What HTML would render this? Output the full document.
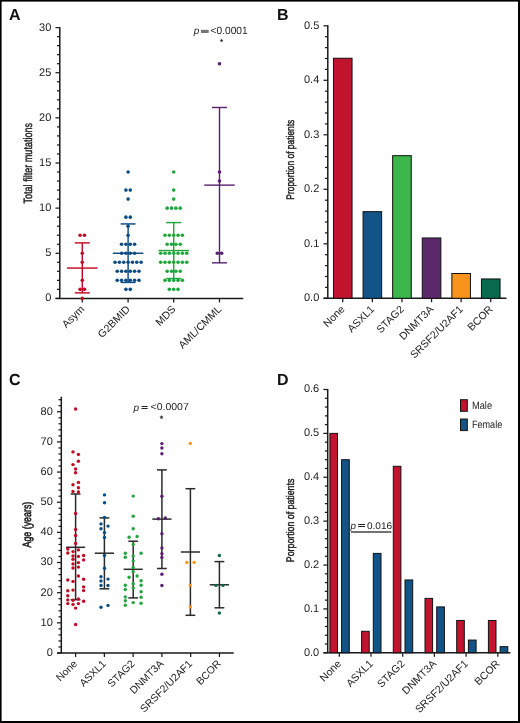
<!DOCTYPE html>
<html><head><meta charset="utf-8"><style>
html,body{margin:0;padding:0;background:#fff;}
svg{display:block;will-change:transform;font-family:"Liberation Sans",sans-serif;}
</style></head><body>
<svg width="520" height="723" viewBox="0 0 520 723" font-family="Liberation Sans, sans-serif" text-rendering="geometricPrecision">
<rect width="520" height="723" fill="#fff"/>
<rect x="0" y="0" width="1.6" height="723" fill="#000"/>
<rect x="0" y="0" width="520" height="1.6" fill="#000"/>
<rect x="518" y="0" width="2" height="723" fill="#000"/>
<rect x="0" y="721" width="520" height="2" fill="#000"/>
<text transform="translate(9.0,19.9) scale(1,1)" font-size="16" font-weight="bold" fill="#111" text-rendering="geometricPrecision">A</text>
<text transform="translate(276.95,19.9) scale(1,1)" font-size="16" font-weight="bold" fill="#111" text-rendering="geometricPrecision">B</text>
<text transform="translate(9.05,384.95) scale(1,1)" font-size="16" font-weight="bold" fill="#111" text-rendering="geometricPrecision">C</text>
<text transform="translate(276.95,384.95) scale(1,1)" font-size="16" font-weight="bold" fill="#111" text-rendering="geometricPrecision">D</text>
<line x1="59.8" y1="27" x2="59.8" y2="298.4" stroke="#1a1a1a" stroke-width="1.5"/>
<line x1="55.5" y1="298.4" x2="59.8" y2="298.4" stroke="#1a1a1a" stroke-width="1.25"/>
<text x="51.3" y="301.3" text-anchor="end" font-size="11.0" fill="#222222">0</text>
<line x1="55.5" y1="253.27" x2="59.8" y2="253.27" stroke="#1a1a1a" stroke-width="1.25"/>
<text x="51.3" y="256.17" text-anchor="end" font-size="11.0" fill="#222222">5</text>
<line x1="55.5" y1="208.13" x2="59.8" y2="208.13" stroke="#1a1a1a" stroke-width="1.25"/>
<text x="51.3" y="211.03" text-anchor="end" font-size="11.0" fill="#222222">10</text>
<line x1="55.5" y1="163.0" x2="59.8" y2="163.0" stroke="#1a1a1a" stroke-width="1.25"/>
<text x="51.3" y="165.9" text-anchor="end" font-size="11.0" fill="#222222">15</text>
<line x1="55.5" y1="117.87" x2="59.8" y2="117.87" stroke="#1a1a1a" stroke-width="1.25"/>
<text x="51.3" y="120.77" text-anchor="end" font-size="11.0" fill="#222222">20</text>
<line x1="55.5" y1="72.73" x2="59.8" y2="72.73" stroke="#1a1a1a" stroke-width="1.25"/>
<text x="51.3" y="75.63" text-anchor="end" font-size="11.0" fill="#222222">25</text>
<line x1="55.5" y1="27.6" x2="59.8" y2="27.6" stroke="#1a1a1a" stroke-width="1.25"/>
<text x="51.3" y="30.5" text-anchor="end" font-size="11.0" fill="#222222">30</text>
<line x1="57.0" y1="289.37" x2="59.8" y2="289.37" stroke="#1a1a1a" stroke-width="1.25"/>
<line x1="57.0" y1="280.35" x2="59.8" y2="280.35" stroke="#1a1a1a" stroke-width="1.25"/>
<line x1="57.0" y1="271.32" x2="59.8" y2="271.32" stroke="#1a1a1a" stroke-width="1.25"/>
<line x1="57.0" y1="262.29" x2="59.8" y2="262.29" stroke="#1a1a1a" stroke-width="1.25"/>
<line x1="57.0" y1="244.24" x2="59.8" y2="244.24" stroke="#1a1a1a" stroke-width="1.25"/>
<line x1="57.0" y1="235.21" x2="59.8" y2="235.21" stroke="#1a1a1a" stroke-width="1.25"/>
<line x1="57.0" y1="226.19" x2="59.8" y2="226.19" stroke="#1a1a1a" stroke-width="1.25"/>
<line x1="57.0" y1="217.16" x2="59.8" y2="217.16" stroke="#1a1a1a" stroke-width="1.25"/>
<line x1="57.0" y1="199.11" x2="59.8" y2="199.11" stroke="#1a1a1a" stroke-width="1.25"/>
<line x1="57.0" y1="190.08" x2="59.8" y2="190.08" stroke="#1a1a1a" stroke-width="1.25"/>
<line x1="57.0" y1="181.05" x2="59.8" y2="181.05" stroke="#1a1a1a" stroke-width="1.25"/>
<line x1="57.0" y1="172.03" x2="59.8" y2="172.03" stroke="#1a1a1a" stroke-width="1.25"/>
<line x1="57.0" y1="153.97" x2="59.8" y2="153.97" stroke="#1a1a1a" stroke-width="1.25"/>
<line x1="57.0" y1="144.95" x2="59.8" y2="144.95" stroke="#1a1a1a" stroke-width="1.25"/>
<line x1="57.0" y1="135.92" x2="59.8" y2="135.92" stroke="#1a1a1a" stroke-width="1.25"/>
<line x1="57.0" y1="126.89" x2="59.8" y2="126.89" stroke="#1a1a1a" stroke-width="1.25"/>
<line x1="57.0" y1="108.84" x2="59.8" y2="108.84" stroke="#1a1a1a" stroke-width="1.25"/>
<line x1="57.0" y1="99.81" x2="59.8" y2="99.81" stroke="#1a1a1a" stroke-width="1.25"/>
<line x1="57.0" y1="90.79" x2="59.8" y2="90.79" stroke="#1a1a1a" stroke-width="1.25"/>
<line x1="57.0" y1="81.76" x2="59.8" y2="81.76" stroke="#1a1a1a" stroke-width="1.25"/>
<line x1="57.0" y1="63.71" x2="59.8" y2="63.71" stroke="#1a1a1a" stroke-width="1.25"/>
<line x1="57.0" y1="54.68" x2="59.8" y2="54.68" stroke="#1a1a1a" stroke-width="1.25"/>
<line x1="57.0" y1="45.65" x2="59.8" y2="45.65" stroke="#1a1a1a" stroke-width="1.25"/>
<line x1="57.0" y1="36.63" x2="59.8" y2="36.63" stroke="#1a1a1a" stroke-width="1.25"/>
<line x1="55.6" y1="298.4" x2="243.3" y2="298.4" stroke="#1a1a1a" stroke-width="1.5"/>
<line x1="82.3" y1="298.4" x2="82.3" y2="302.4" stroke="#1a1a1a" stroke-width="1.25"/>
<text transform="translate(84.90,309.90) rotate(-45)" text-anchor="end" font-size="10.55" fill="#222222">Asym</text>
<line x1="128.1" y1="298.4" x2="128.1" y2="302.4" stroke="#1a1a1a" stroke-width="1.25"/>
<text transform="translate(130.70,309.90) rotate(-45)" text-anchor="end" font-size="10.55" fill="#222222">G2BMID</text>
<line x1="173.7" y1="298.4" x2="173.7" y2="302.4" stroke="#1a1a1a" stroke-width="1.25"/>
<text transform="translate(176.30,309.90) rotate(-45)" text-anchor="end" font-size="10.55" fill="#222222">MDS</text>
<line x1="219.5" y1="298.4" x2="219.5" y2="302.4" stroke="#1a1a1a" stroke-width="1.25"/>
<text transform="translate(222.10,309.90) rotate(-45)" text-anchor="end" font-size="10.55" fill="#222222">AML/CMML</text>
<text transform="translate(31.5,163.2) rotate(-90)" text-anchor="middle" font-size="12" fill="#222222" stroke="#222222" stroke-width="0.45" textLength="80.7" lengthAdjust="spacingAndGlyphs" font-weight="normal">Total filter mutations</text>
<line x1="82.3" y1="242.89" x2="82.3" y2="292.89" stroke="#c30a24" stroke-width="1.45"/>
<line x1="74.8" y1="242.89" x2="89.8" y2="242.89" stroke="#c30a24" stroke-width="1.45"/>
<line x1="74.8" y1="292.89" x2="89.8" y2="292.89" stroke="#c30a24" stroke-width="1.45"/>
<line x1="67.05" y1="268.07" x2="97.55" y2="268.07" stroke="#c30a24" stroke-width="1.45"/>
<circle cx="80.12" cy="235.21" r="1.8" fill="#c30a24"/>
<circle cx="84.47" cy="235.21" r="1.8" fill="#c30a24"/>
<circle cx="82.30" cy="253.27" r="1.8" fill="#c30a24"/>
<circle cx="82.30" cy="262.29" r="1.8" fill="#c30a24"/>
<circle cx="82.30" cy="280.35" r="1.8" fill="#c30a24"/>
<circle cx="80.12" cy="289.37" r="1.8" fill="#c30a24"/>
<circle cx="84.47" cy="289.37" r="1.8" fill="#c30a24"/>
<circle cx="82.30" cy="298.40" r="1.8" fill="#c30a24"/>
<line x1="128.1" y1="223.93" x2="128.1" y2="282.42" stroke="#0d4c82" stroke-width="1.45"/>
<line x1="120.6" y1="223.93" x2="135.6" y2="223.93" stroke="#0d4c82" stroke-width="1.45"/>
<line x1="120.6" y1="282.42" x2="135.6" y2="282.42" stroke="#0d4c82" stroke-width="1.45"/>
<line x1="112.85" y1="253.27" x2="143.35" y2="253.27" stroke="#0d4c82" stroke-width="1.45"/>
<circle cx="128.10" cy="172.03" r="1.8" fill="#0d4c82"/>
<circle cx="125.92" cy="190.08" r="1.8" fill="#0d4c82"/>
<circle cx="130.28" cy="190.08" r="1.8" fill="#0d4c82"/>
<circle cx="128.10" cy="199.11" r="1.8" fill="#0d4c82"/>
<circle cx="125.92" cy="217.16" r="1.8" fill="#0d4c82"/>
<circle cx="130.28" cy="217.16" r="1.8" fill="#0d4c82"/>
<circle cx="128.10" cy="226.19" r="1.8" fill="#0d4c82"/>
<circle cx="128.10" cy="235.21" r="1.8" fill="#0d4c82"/>
<circle cx="121.57" cy="244.24" r="1.8" fill="#0d4c82"/>
<circle cx="125.92" cy="244.24" r="1.8" fill="#0d4c82"/>
<circle cx="130.28" cy="244.24" r="1.8" fill="#0d4c82"/>
<circle cx="134.62" cy="244.24" r="1.8" fill="#0d4c82"/>
<circle cx="121.57" cy="253.27" r="1.8" fill="#0d4c82"/>
<circle cx="125.92" cy="253.27" r="1.8" fill="#0d4c82"/>
<circle cx="130.28" cy="253.27" r="1.8" fill="#0d4c82"/>
<circle cx="134.62" cy="253.27" r="1.8" fill="#0d4c82"/>
<circle cx="115.05" cy="262.29" r="1.8" fill="#0d4c82"/>
<circle cx="119.40" cy="262.29" r="1.8" fill="#0d4c82"/>
<circle cx="123.75" cy="262.29" r="1.8" fill="#0d4c82"/>
<circle cx="128.10" cy="262.29" r="1.8" fill="#0d4c82"/>
<circle cx="132.45" cy="262.29" r="1.8" fill="#0d4c82"/>
<circle cx="136.80" cy="262.29" r="1.8" fill="#0d4c82"/>
<circle cx="141.15" cy="262.29" r="1.8" fill="#0d4c82"/>
<circle cx="117.22" cy="271.32" r="1.8" fill="#0d4c82"/>
<circle cx="121.57" cy="271.32" r="1.8" fill="#0d4c82"/>
<circle cx="125.92" cy="271.32" r="1.8" fill="#0d4c82"/>
<circle cx="130.28" cy="271.32" r="1.8" fill="#0d4c82"/>
<circle cx="134.62" cy="271.32" r="1.8" fill="#0d4c82"/>
<circle cx="138.97" cy="271.32" r="1.8" fill="#0d4c82"/>
<circle cx="117.22" cy="280.35" r="1.8" fill="#0d4c82"/>
<circle cx="121.57" cy="280.35" r="1.8" fill="#0d4c82"/>
<circle cx="125.92" cy="280.35" r="1.8" fill="#0d4c82"/>
<circle cx="130.28" cy="280.35" r="1.8" fill="#0d4c82"/>
<circle cx="134.62" cy="280.35" r="1.8" fill="#0d4c82"/>
<circle cx="138.97" cy="280.35" r="1.8" fill="#0d4c82"/>
<circle cx="125.92" cy="289.37" r="1.8" fill="#0d4c82"/>
<circle cx="130.28" cy="289.37" r="1.8" fill="#0d4c82"/>
<line x1="173.7" y1="222.58" x2="173.7" y2="278.54" stroke="#20a63b" stroke-width="1.45"/>
<line x1="166.2" y1="222.58" x2="181.2" y2="222.58" stroke="#20a63b" stroke-width="1.45"/>
<line x1="166.2" y1="278.54" x2="181.2" y2="278.54" stroke="#20a63b" stroke-width="1.45"/>
<line x1="158.45" y1="250.56" x2="188.95" y2="250.56" stroke="#20a63b" stroke-width="1.45"/>
<circle cx="173.70" cy="172.03" r="1.8" fill="#20a63b"/>
<circle cx="173.70" cy="190.08" r="1.8" fill="#20a63b"/>
<circle cx="173.70" cy="199.11" r="1.8" fill="#20a63b"/>
<circle cx="167.17" cy="208.13" r="1.8" fill="#20a63b"/>
<circle cx="171.52" cy="208.13" r="1.8" fill="#20a63b"/>
<circle cx="175.88" cy="208.13" r="1.8" fill="#20a63b"/>
<circle cx="180.22" cy="208.13" r="1.8" fill="#20a63b"/>
<circle cx="165.00" cy="235.21" r="1.8" fill="#20a63b"/>
<circle cx="169.35" cy="235.21" r="1.8" fill="#20a63b"/>
<circle cx="173.70" cy="235.21" r="1.8" fill="#20a63b"/>
<circle cx="178.05" cy="235.21" r="1.8" fill="#20a63b"/>
<circle cx="182.40" cy="235.21" r="1.8" fill="#20a63b"/>
<circle cx="167.17" cy="244.24" r="1.8" fill="#20a63b"/>
<circle cx="171.52" cy="244.24" r="1.8" fill="#20a63b"/>
<circle cx="175.88" cy="244.24" r="1.8" fill="#20a63b"/>
<circle cx="180.22" cy="244.24" r="1.8" fill="#20a63b"/>
<circle cx="160.65" cy="253.27" r="1.8" fill="#20a63b"/>
<circle cx="165.00" cy="253.27" r="1.8" fill="#20a63b"/>
<circle cx="169.35" cy="253.27" r="1.8" fill="#20a63b"/>
<circle cx="173.70" cy="253.27" r="1.8" fill="#20a63b"/>
<circle cx="178.05" cy="253.27" r="1.8" fill="#20a63b"/>
<circle cx="182.40" cy="253.27" r="1.8" fill="#20a63b"/>
<circle cx="186.75" cy="253.27" r="1.8" fill="#20a63b"/>
<circle cx="160.65" cy="262.29" r="1.8" fill="#20a63b"/>
<circle cx="165.00" cy="262.29" r="1.8" fill="#20a63b"/>
<circle cx="169.35" cy="262.29" r="1.8" fill="#20a63b"/>
<circle cx="173.70" cy="262.29" r="1.8" fill="#20a63b"/>
<circle cx="178.05" cy="262.29" r="1.8" fill="#20a63b"/>
<circle cx="182.40" cy="262.29" r="1.8" fill="#20a63b"/>
<circle cx="186.75" cy="262.29" r="1.8" fill="#20a63b"/>
<circle cx="167.17" cy="271.32" r="1.8" fill="#20a63b"/>
<circle cx="171.52" cy="271.32" r="1.8" fill="#20a63b"/>
<circle cx="175.88" cy="271.32" r="1.8" fill="#20a63b"/>
<circle cx="180.22" cy="271.32" r="1.8" fill="#20a63b"/>
<circle cx="165.00" cy="280.35" r="1.8" fill="#20a63b"/>
<circle cx="169.35" cy="280.35" r="1.8" fill="#20a63b"/>
<circle cx="173.70" cy="280.35" r="1.8" fill="#20a63b"/>
<circle cx="178.05" cy="280.35" r="1.8" fill="#20a63b"/>
<circle cx="182.40" cy="280.35" r="1.8" fill="#20a63b"/>
<circle cx="169.35" cy="289.37" r="1.8" fill="#20a63b"/>
<circle cx="173.70" cy="289.37" r="1.8" fill="#20a63b"/>
<circle cx="178.05" cy="289.37" r="1.8" fill="#20a63b"/>
<line x1="219.5" y1="107.49" x2="219.5" y2="262.83" stroke="#5a1f70" stroke-width="1.4"/>
<line x1="212.0" y1="107.49" x2="227.0" y2="107.49" stroke="#5a1f70" stroke-width="1.4"/>
<line x1="212.0" y1="262.83" x2="227.0" y2="262.83" stroke="#5a1f70" stroke-width="1.4"/>
<line x1="204.25" y1="185.12" x2="234.75" y2="185.12" stroke="#5a1f70" stroke-width="1.4"/>
<circle cx="219.50" cy="63.71" r="1.8" fill="#5a1f70"/>
<circle cx="219.50" cy="172.03" r="1.8" fill="#5a1f70"/>
<circle cx="219.50" cy="181.05" r="1.8" fill="#5a1f70"/>
<circle cx="217.32" cy="253.27" r="1.8" fill="#5a1f70"/>
<circle cx="221.68" cy="253.27" r="1.8" fill="#5a1f70"/>
<polygon points="221.60,38.70 222.13,39.77 223.31,39.94 222.46,40.78 222.66,41.96 221.60,41.40 220.54,41.96 220.74,40.78 219.89,39.94 221.07,39.77" fill="#222"/>
<text x="193.7" y="34.4" font-size="10" fill="#222222"><tspan font-style="italic">p</tspan></text>
<rect x="201" y="29.8" width="7.7" height="3.2" fill="#777"/>
<text x="210.5" y="34.0" font-size="10.5" fill="#222222" textLength="37.2" lengthAdjust="spacingAndGlyphs">&lt;0.0001</text>
<line x1="327.8" y1="25.2" x2="327.8" y2="298.3" stroke="#1a1a1a" stroke-width="1.5"/>
<line x1="323.5" y1="298.3" x2="327.8" y2="298.3" stroke="#1a1a1a" stroke-width="1.25"/>
<text x="319.3" y="301.2" text-anchor="end" font-size="11.0" fill="#222222">0.0</text>
<line x1="323.5" y1="243.8" x2="327.8" y2="243.8" stroke="#1a1a1a" stroke-width="1.25"/>
<text x="319.3" y="246.7" text-anchor="end" font-size="11.0" fill="#222222">0.1</text>
<line x1="323.5" y1="189.3" x2="327.8" y2="189.3" stroke="#1a1a1a" stroke-width="1.25"/>
<text x="319.3" y="192.2" text-anchor="end" font-size="11.0" fill="#222222">0.2</text>
<line x1="323.5" y1="134.8" x2="327.8" y2="134.8" stroke="#1a1a1a" stroke-width="1.25"/>
<text x="319.3" y="137.7" text-anchor="end" font-size="11.0" fill="#222222">0.3</text>
<line x1="323.5" y1="80.3" x2="327.8" y2="80.3" stroke="#1a1a1a" stroke-width="1.25"/>
<text x="319.3" y="83.2" text-anchor="end" font-size="11.0" fill="#222222">0.4</text>
<line x1="323.5" y1="25.8" x2="327.8" y2="25.8" stroke="#1a1a1a" stroke-width="1.25"/>
<text x="319.3" y="28.7" text-anchor="end" font-size="11.0" fill="#222222">0.5</text>
<line x1="325.0" y1="287.4" x2="327.8" y2="287.4" stroke="#1a1a1a" stroke-width="1.25"/>
<line x1="325.0" y1="276.5" x2="327.8" y2="276.5" stroke="#1a1a1a" stroke-width="1.25"/>
<line x1="325.0" y1="265.6" x2="327.8" y2="265.6" stroke="#1a1a1a" stroke-width="1.25"/>
<line x1="325.0" y1="254.7" x2="327.8" y2="254.7" stroke="#1a1a1a" stroke-width="1.25"/>
<line x1="325.0" y1="232.9" x2="327.8" y2="232.9" stroke="#1a1a1a" stroke-width="1.25"/>
<line x1="325.0" y1="222.0" x2="327.8" y2="222.0" stroke="#1a1a1a" stroke-width="1.25"/>
<line x1="325.0" y1="211.1" x2="327.8" y2="211.1" stroke="#1a1a1a" stroke-width="1.25"/>
<line x1="325.0" y1="200.2" x2="327.8" y2="200.2" stroke="#1a1a1a" stroke-width="1.25"/>
<line x1="325.0" y1="178.4" x2="327.8" y2="178.4" stroke="#1a1a1a" stroke-width="1.25"/>
<line x1="325.0" y1="167.5" x2="327.8" y2="167.5" stroke="#1a1a1a" stroke-width="1.25"/>
<line x1="325.0" y1="156.6" x2="327.8" y2="156.6" stroke="#1a1a1a" stroke-width="1.25"/>
<line x1="325.0" y1="145.7" x2="327.8" y2="145.7" stroke="#1a1a1a" stroke-width="1.25"/>
<line x1="325.0" y1="123.9" x2="327.8" y2="123.9" stroke="#1a1a1a" stroke-width="1.25"/>
<line x1="325.0" y1="113.0" x2="327.8" y2="113.0" stroke="#1a1a1a" stroke-width="1.25"/>
<line x1="325.0" y1="102.1" x2="327.8" y2="102.1" stroke="#1a1a1a" stroke-width="1.25"/>
<line x1="325.0" y1="91.2" x2="327.8" y2="91.2" stroke="#1a1a1a" stroke-width="1.25"/>
<line x1="325.0" y1="69.4" x2="327.8" y2="69.4" stroke="#1a1a1a" stroke-width="1.25"/>
<line x1="325.0" y1="58.5" x2="327.8" y2="58.5" stroke="#1a1a1a" stroke-width="1.25"/>
<line x1="325.0" y1="47.6" x2="327.8" y2="47.6" stroke="#1a1a1a" stroke-width="1.25"/>
<line x1="325.0" y1="36.7" x2="327.8" y2="36.7" stroke="#1a1a1a" stroke-width="1.25"/>
<line x1="323.6" y1="298.3" x2="506.5" y2="298.3" stroke="#1a1a1a" stroke-width="1.5"/>
<line x1="342.75" y1="298.3" x2="342.75" y2="302.3" stroke="#1a1a1a" stroke-width="1.25"/>
<text transform="translate(345.35,309.80) rotate(-45)" text-anchor="end" font-size="10.55" fill="#222222">None</text>
<line x1="372.35" y1="298.3" x2="372.35" y2="302.3" stroke="#1a1a1a" stroke-width="1.25"/>
<text transform="translate(374.95,309.80) rotate(-45)" text-anchor="end" font-size="10.55" fill="#222222">ASXL1</text>
<line x1="401.95" y1="298.3" x2="401.95" y2="302.3" stroke="#1a1a1a" stroke-width="1.25"/>
<text transform="translate(404.55,309.80) rotate(-45)" text-anchor="end" font-size="10.55" fill="#222222">STAG2</text>
<line x1="431.55" y1="298.3" x2="431.55" y2="302.3" stroke="#1a1a1a" stroke-width="1.25"/>
<text transform="translate(434.15,309.80) rotate(-45)" text-anchor="end" font-size="10.55" fill="#222222">DNMT3A</text>
<line x1="461.15" y1="298.3" x2="461.15" y2="302.3" stroke="#1a1a1a" stroke-width="1.25"/>
<text transform="translate(463.75,309.80) rotate(-45)" text-anchor="end" font-size="10.55" fill="#222222">SRSF2/U2AF1</text>
<line x1="490.75" y1="298.3" x2="490.75" y2="302.3" stroke="#1a1a1a" stroke-width="1.25"/>
<text transform="translate(493.35,309.80) rotate(-45)" text-anchor="end" font-size="10.55" fill="#222222">BCOR</text>
<text transform="translate(293.8,159.7) rotate(-90)" text-anchor="middle" font-size="11" fill="#222222" stroke="#222222" stroke-width="0.45" textLength="80" lengthAdjust="spacingAndGlyphs" font-weight="normal">Proportion of patients</text>
<rect x="333.45" y="58.23" width="18.6" height="240.07" fill="#c2132f" stroke="#111" stroke-width="1"/>
<rect x="363.05" y="211.65" width="18.6" height="86.66" fill="#135488" stroke="#111" stroke-width="1"/>
<rect x="392.65" y="155.67" width="18.6" height="142.63" fill="#3cb54a" stroke="#111" stroke-width="1"/>
<rect x="422.25" y="237.97" width="18.6" height="60.33" fill="#5c2a6c" stroke="#111" stroke-width="1"/>
<rect x="451.85" y="273.50" width="18.6" height="24.80" fill="#f7941e" stroke="#111" stroke-width="1"/>
<rect x="481.45" y="278.95" width="18.6" height="19.35" fill="#0a6a4e" stroke="#111" stroke-width="1"/>
<line x1="61.3" y1="396.67" x2="61.3" y2="653.0" stroke="#1a1a1a" stroke-width="1.5"/>
<line x1="57.0" y1="653.0" x2="61.3" y2="653.0" stroke="#1a1a1a" stroke-width="1.25"/>
<text x="52.8" y="655.9" text-anchor="end" font-size="11.0" fill="#222222">0</text>
<line x1="57.0" y1="622.84" x2="61.3" y2="622.84" stroke="#1a1a1a" stroke-width="1.25"/>
<text x="52.8" y="625.74" text-anchor="end" font-size="11.0" fill="#222222">10</text>
<line x1="57.0" y1="592.69" x2="61.3" y2="592.69" stroke="#1a1a1a" stroke-width="1.25"/>
<text x="52.8" y="595.59" text-anchor="end" font-size="11.0" fill="#222222">20</text>
<line x1="57.0" y1="562.53" x2="61.3" y2="562.53" stroke="#1a1a1a" stroke-width="1.25"/>
<text x="52.8" y="565.43" text-anchor="end" font-size="11.0" fill="#222222">30</text>
<line x1="57.0" y1="532.38" x2="61.3" y2="532.38" stroke="#1a1a1a" stroke-width="1.25"/>
<text x="52.8" y="535.27" text-anchor="end" font-size="11.0" fill="#222222">40</text>
<line x1="57.0" y1="502.22" x2="61.3" y2="502.22" stroke="#1a1a1a" stroke-width="1.25"/>
<text x="52.8" y="505.12" text-anchor="end" font-size="11.0" fill="#222222">50</text>
<line x1="57.0" y1="472.06" x2="61.3" y2="472.06" stroke="#1a1a1a" stroke-width="1.25"/>
<text x="52.8" y="474.96" text-anchor="end" font-size="11.0" fill="#222222">60</text>
<line x1="57.0" y1="441.91" x2="61.3" y2="441.91" stroke="#1a1a1a" stroke-width="1.25"/>
<text x="52.8" y="444.81" text-anchor="end" font-size="11.0" fill="#222222">70</text>
<line x1="57.0" y1="411.75" x2="61.3" y2="411.75" stroke="#1a1a1a" stroke-width="1.25"/>
<text x="52.8" y="414.65" text-anchor="end" font-size="11.0" fill="#222222">80</text>
<line x1="58.5" y1="646.97" x2="61.3" y2="646.97" stroke="#1a1a1a" stroke-width="1.25"/>
<line x1="58.5" y1="640.94" x2="61.3" y2="640.94" stroke="#1a1a1a" stroke-width="1.25"/>
<line x1="58.5" y1="634.91" x2="61.3" y2="634.91" stroke="#1a1a1a" stroke-width="1.25"/>
<line x1="58.5" y1="628.88" x2="61.3" y2="628.88" stroke="#1a1a1a" stroke-width="1.25"/>
<line x1="58.5" y1="616.81" x2="61.3" y2="616.81" stroke="#1a1a1a" stroke-width="1.25"/>
<line x1="58.5" y1="610.78" x2="61.3" y2="610.78" stroke="#1a1a1a" stroke-width="1.25"/>
<line x1="58.5" y1="604.75" x2="61.3" y2="604.75" stroke="#1a1a1a" stroke-width="1.25"/>
<line x1="58.5" y1="598.72" x2="61.3" y2="598.72" stroke="#1a1a1a" stroke-width="1.25"/>
<line x1="58.5" y1="586.66" x2="61.3" y2="586.66" stroke="#1a1a1a" stroke-width="1.25"/>
<line x1="58.5" y1="580.62" x2="61.3" y2="580.62" stroke="#1a1a1a" stroke-width="1.25"/>
<line x1="58.5" y1="574.59" x2="61.3" y2="574.59" stroke="#1a1a1a" stroke-width="1.25"/>
<line x1="58.5" y1="568.56" x2="61.3" y2="568.56" stroke="#1a1a1a" stroke-width="1.25"/>
<line x1="58.5" y1="556.5" x2="61.3" y2="556.5" stroke="#1a1a1a" stroke-width="1.25"/>
<line x1="58.5" y1="550.47" x2="61.3" y2="550.47" stroke="#1a1a1a" stroke-width="1.25"/>
<line x1="58.5" y1="544.44" x2="61.3" y2="544.44" stroke="#1a1a1a" stroke-width="1.25"/>
<line x1="58.5" y1="538.41" x2="61.3" y2="538.41" stroke="#1a1a1a" stroke-width="1.25"/>
<line x1="58.5" y1="526.34" x2="61.3" y2="526.34" stroke="#1a1a1a" stroke-width="1.25"/>
<line x1="58.5" y1="520.31" x2="61.3" y2="520.31" stroke="#1a1a1a" stroke-width="1.25"/>
<line x1="58.5" y1="514.28" x2="61.3" y2="514.28" stroke="#1a1a1a" stroke-width="1.25"/>
<line x1="58.5" y1="508.25" x2="61.3" y2="508.25" stroke="#1a1a1a" stroke-width="1.25"/>
<line x1="58.5" y1="496.19" x2="61.3" y2="496.19" stroke="#1a1a1a" stroke-width="1.25"/>
<line x1="58.5" y1="490.16" x2="61.3" y2="490.16" stroke="#1a1a1a" stroke-width="1.25"/>
<line x1="58.5" y1="484.12" x2="61.3" y2="484.12" stroke="#1a1a1a" stroke-width="1.25"/>
<line x1="58.5" y1="478.09" x2="61.3" y2="478.09" stroke="#1a1a1a" stroke-width="1.25"/>
<line x1="58.5" y1="466.03" x2="61.3" y2="466.03" stroke="#1a1a1a" stroke-width="1.25"/>
<line x1="58.5" y1="460.0" x2="61.3" y2="460.0" stroke="#1a1a1a" stroke-width="1.25"/>
<line x1="58.5" y1="453.97" x2="61.3" y2="453.97" stroke="#1a1a1a" stroke-width="1.25"/>
<line x1="58.5" y1="447.94" x2="61.3" y2="447.94" stroke="#1a1a1a" stroke-width="1.25"/>
<line x1="58.5" y1="435.88" x2="61.3" y2="435.88" stroke="#1a1a1a" stroke-width="1.25"/>
<line x1="58.5" y1="429.84" x2="61.3" y2="429.84" stroke="#1a1a1a" stroke-width="1.25"/>
<line x1="58.5" y1="423.81" x2="61.3" y2="423.81" stroke="#1a1a1a" stroke-width="1.25"/>
<line x1="58.5" y1="417.78" x2="61.3" y2="417.78" stroke="#1a1a1a" stroke-width="1.25"/>
<line x1="58.5" y1="405.72" x2="61.3" y2="405.72" stroke="#1a1a1a" stroke-width="1.25"/>
<line x1="58.5" y1="399.69" x2="61.3" y2="399.69" stroke="#1a1a1a" stroke-width="1.25"/>
<line x1="57.1" y1="653.0" x2="233.75" y2="653.0" stroke="#1a1a1a" stroke-width="1.5"/>
<line x1="75.6" y1="653.0" x2="75.6" y2="657.0" stroke="#1a1a1a" stroke-width="1.25"/>
<text transform="translate(77.80,664.30) rotate(-45)" text-anchor="end" font-size="10.4" fill="#222222">None</text>
<line x1="104.37" y1="653.0" x2="104.37" y2="657.0" stroke="#1a1a1a" stroke-width="1.25"/>
<text transform="translate(106.57,664.30) rotate(-45)" text-anchor="end" font-size="10.4" fill="#222222">ASXL1</text>
<line x1="133.14" y1="653.0" x2="133.14" y2="657.0" stroke="#1a1a1a" stroke-width="1.25"/>
<text transform="translate(135.34,664.30) rotate(-45)" text-anchor="end" font-size="10.4" fill="#222222">STAG2</text>
<line x1="161.91" y1="653.0" x2="161.91" y2="657.0" stroke="#1a1a1a" stroke-width="1.25"/>
<text transform="translate(164.11,664.30) rotate(-45)" text-anchor="end" font-size="10.4" fill="#222222">DNMT3A</text>
<line x1="190.68" y1="653.0" x2="190.68" y2="657.0" stroke="#1a1a1a" stroke-width="1.25"/>
<text transform="translate(192.88,664.30) rotate(-45)" text-anchor="end" font-size="10.4" fill="#222222">SRSF2/U2AF1</text>
<line x1="219.45" y1="653.0" x2="219.45" y2="657.0" stroke="#1a1a1a" stroke-width="1.25"/>
<text transform="translate(221.65,664.30) rotate(-45)" text-anchor="end" font-size="10.4" fill="#222222">BCOR</text>
<text transform="translate(31.2,524.6) rotate(-90)" text-anchor="middle" font-size="12" fill="#222222" stroke="#222222" stroke-width="0.6" textLength="45.7" lengthAdjust="spacingAndGlyphs" font-weight="normal">Age (years)</text>
<line x1="75.6" y1="494.0" x2="75.6" y2="599.7" stroke="#2a2a2a" stroke-width="1.5"/>
<line x1="70.7" y1="494.0" x2="80.5" y2="494.0" stroke="#2a2a2a" stroke-width="1.5"/>
<line x1="70.7" y1="599.7" x2="80.5" y2="599.7" stroke="#2a2a2a" stroke-width="1.5"/>
<line x1="66.0" y1="547.3" x2="85.2" y2="547.3" stroke="#2a2a2a" stroke-width="1.5"/>
<circle cx="75.60" cy="409.00" r="1.7" fill="#c30a24"/>
<circle cx="73.00" cy="451.90" r="1.7" fill="#c30a24"/>
<circle cx="78.40" cy="454.40" r="1.7" fill="#c30a24"/>
<circle cx="78.40" cy="461.20" r="1.7" fill="#c30a24"/>
<circle cx="73.00" cy="464.60" r="1.7" fill="#c30a24"/>
<circle cx="75.60" cy="469.00" r="1.7" fill="#c30a24"/>
<circle cx="75.60" cy="472.70" r="1.7" fill="#c30a24"/>
<circle cx="73.00" cy="484.70" r="1.7" fill="#c30a24"/>
<circle cx="78.40" cy="482.40" r="1.7" fill="#c30a24"/>
<circle cx="78.40" cy="487.70" r="1.7" fill="#c30a24"/>
<circle cx="73.00" cy="491.50" r="1.7" fill="#c30a24"/>
<circle cx="78.40" cy="492.00" r="1.7" fill="#c30a24"/>
<circle cx="75.60" cy="513.50" r="1.7" fill="#c30a24"/>
<circle cx="75.60" cy="529.40" r="1.7" fill="#c30a24"/>
<circle cx="75.60" cy="535.50" r="1.7" fill="#c30a24"/>
<circle cx="75.60" cy="543.50" r="1.7" fill="#c30a24"/>
<circle cx="67.80" cy="549.00" r="1.7" fill="#c30a24"/>
<circle cx="73.00" cy="551.60" r="1.7" fill="#c30a24"/>
<circle cx="78.40" cy="549.90" r="1.7" fill="#c30a24"/>
<circle cx="67.80" cy="553.00" r="1.7" fill="#c30a24"/>
<circle cx="73.00" cy="555.90" r="1.7" fill="#c30a24"/>
<circle cx="78.40" cy="556.40" r="1.7" fill="#c30a24"/>
<circle cx="83.60" cy="555.50" r="1.7" fill="#c30a24"/>
<circle cx="73.00" cy="559.30" r="1.7" fill="#c30a24"/>
<circle cx="83.60" cy="559.90" r="1.7" fill="#c30a24"/>
<circle cx="78.40" cy="562.60" r="1.7" fill="#c30a24"/>
<circle cx="73.00" cy="563.90" r="1.7" fill="#c30a24"/>
<circle cx="73.00" cy="568.00" r="1.7" fill="#c30a24"/>
<circle cx="78.40" cy="567.10" r="1.7" fill="#c30a24"/>
<circle cx="78.40" cy="576.00" r="1.7" fill="#c30a24"/>
<circle cx="67.80" cy="580.00" r="1.7" fill="#c30a24"/>
<circle cx="73.00" cy="581.40" r="1.7" fill="#c30a24"/>
<circle cx="83.60" cy="579.20" r="1.7" fill="#c30a24"/>
<circle cx="83.60" cy="586.90" r="1.7" fill="#c30a24"/>
<circle cx="67.80" cy="590.70" r="1.7" fill="#c30a24"/>
<circle cx="73.00" cy="590.10" r="1.7" fill="#c30a24"/>
<circle cx="83.60" cy="590.60" r="1.7" fill="#c30a24"/>
<circle cx="67.80" cy="595.70" r="1.7" fill="#c30a24"/>
<circle cx="67.80" cy="599.90" r="1.7" fill="#c30a24"/>
<circle cx="73.00" cy="600.30" r="1.7" fill="#c30a24"/>
<circle cx="78.40" cy="599.00" r="1.7" fill="#c30a24"/>
<circle cx="83.60" cy="601.30" r="1.7" fill="#c30a24"/>
<circle cx="67.80" cy="603.60" r="1.7" fill="#c30a24"/>
<circle cx="73.00" cy="604.40" r="1.7" fill="#c30a24"/>
<circle cx="78.40" cy="603.60" r="1.7" fill="#c30a24"/>
<circle cx="75.60" cy="608.10" r="1.7" fill="#c30a24"/>
<circle cx="75.60" cy="624.50" r="1.7" fill="#c30a24"/>
<line x1="104.4" y1="517.9" x2="104.4" y2="588.8" stroke="#2a2a2a" stroke-width="1.5"/>
<line x1="99.5" y1="517.9" x2="109.3" y2="517.9" stroke="#2a2a2a" stroke-width="1.5"/>
<line x1="99.5" y1="588.8" x2="109.3" y2="588.8" stroke="#2a2a2a" stroke-width="1.5"/>
<line x1="94.8" y1="553.2" x2="114.0" y2="553.2" stroke="#2a2a2a" stroke-width="1.5"/>
<circle cx="104.50" cy="494.90" r="1.7" fill="#0d4c82"/>
<circle cx="104.50" cy="502.80" r="1.7" fill="#0d4c82"/>
<circle cx="104.50" cy="517.40" r="1.7" fill="#0d4c82"/>
<circle cx="101.00" cy="523.90" r="1.7" fill="#0d4c82"/>
<circle cx="108.00" cy="526.10" r="1.7" fill="#0d4c82"/>
<circle cx="101.00" cy="528.80" r="1.7" fill="#0d4c82"/>
<circle cx="104.50" cy="532.60" r="1.7" fill="#0d4c82"/>
<circle cx="104.50" cy="537.50" r="1.7" fill="#0d4c82"/>
<circle cx="104.50" cy="555.50" r="1.7" fill="#0d4c82"/>
<circle cx="104.50" cy="568.30" r="1.7" fill="#0d4c82"/>
<circle cx="101.00" cy="576.80" r="1.7" fill="#0d4c82"/>
<circle cx="101.00" cy="581.00" r="1.7" fill="#0d4c82"/>
<circle cx="108.00" cy="579.10" r="1.7" fill="#0d4c82"/>
<circle cx="101.00" cy="585.50" r="1.7" fill="#0d4c82"/>
<circle cx="108.00" cy="585.50" r="1.7" fill="#0d4c82"/>
<circle cx="101.00" cy="607.20" r="1.7" fill="#0d4c82"/>
<circle cx="108.00" cy="605.40" r="1.7" fill="#0d4c82"/>
<line x1="133.2" y1="541.2" x2="133.2" y2="597.9" stroke="#2a2a2a" stroke-width="1.5"/>
<line x1="128.3" y1="541.2" x2="138.1" y2="541.2" stroke="#2a2a2a" stroke-width="1.5"/>
<line x1="128.3" y1="597.9" x2="138.1" y2="597.9" stroke="#2a2a2a" stroke-width="1.5"/>
<line x1="123.6" y1="569.3" x2="142.8" y2="569.3" stroke="#2a2a2a" stroke-width="1.5"/>
<circle cx="133.20" cy="496.10" r="1.7" fill="#20a63b"/>
<circle cx="133.20" cy="516.20" r="1.7" fill="#20a63b"/>
<circle cx="133.20" cy="528.80" r="1.7" fill="#20a63b"/>
<circle cx="129.10" cy="537.30" r="1.7" fill="#20a63b"/>
<circle cx="137.10" cy="536.50" r="1.7" fill="#20a63b"/>
<circle cx="133.20" cy="544.40" r="1.7" fill="#20a63b"/>
<circle cx="125.30" cy="553.30" r="1.7" fill="#20a63b"/>
<circle cx="141.10" cy="553.30" r="1.7" fill="#20a63b"/>
<circle cx="125.30" cy="557.20" r="1.7" fill="#20a63b"/>
<circle cx="133.20" cy="556.10" r="1.7" fill="#20a63b"/>
<circle cx="133.20" cy="561.10" r="1.7" fill="#20a63b"/>
<circle cx="133.20" cy="567.40" r="1.7" fill="#20a63b"/>
<circle cx="133.20" cy="571.70" r="1.7" fill="#20a63b"/>
<circle cx="129.10" cy="577.20" r="1.7" fill="#20a63b"/>
<circle cx="137.10" cy="576.00" r="1.7" fill="#20a63b"/>
<circle cx="141.10" cy="580.70" r="1.7" fill="#20a63b"/>
<circle cx="125.30" cy="585.20" r="1.7" fill="#20a63b"/>
<circle cx="133.20" cy="583.80" r="1.7" fill="#20a63b"/>
<circle cx="141.10" cy="585.20" r="1.7" fill="#20a63b"/>
<circle cx="125.30" cy="589.50" r="1.7" fill="#20a63b"/>
<circle cx="133.20" cy="588.10" r="1.7" fill="#20a63b"/>
<circle cx="141.10" cy="591.70" r="1.7" fill="#20a63b"/>
<circle cx="125.30" cy="597.00" r="1.7" fill="#20a63b"/>
<circle cx="141.10" cy="597.30" r="1.7" fill="#20a63b"/>
<circle cx="125.30" cy="600.70" r="1.7" fill="#20a63b"/>
<circle cx="133.20" cy="602.60" r="1.7" fill="#20a63b"/>
<circle cx="141.10" cy="603.20" r="1.7" fill="#20a63b"/>
<circle cx="125.30" cy="605.20" r="1.7" fill="#20a63b"/>
<line x1="161.9" y1="469.9" x2="161.9" y2="568.5" stroke="#2a2a2a" stroke-width="1.5"/>
<line x1="157.0" y1="469.9" x2="166.8" y2="469.9" stroke="#2a2a2a" stroke-width="1.5"/>
<line x1="157.0" y1="568.5" x2="166.8" y2="568.5" stroke="#2a2a2a" stroke-width="1.5"/>
<line x1="152.3" y1="519.1" x2="171.5" y2="519.1" stroke="#2a2a2a" stroke-width="1.5"/>
<circle cx="161.90" cy="443.60" r="1.7" fill="#5a1f70"/>
<circle cx="161.90" cy="448.00" r="1.7" fill="#5a1f70"/>
<circle cx="161.90" cy="453.70" r="1.7" fill="#5a1f70"/>
<circle cx="161.90" cy="496.20" r="1.7" fill="#5a1f70"/>
<circle cx="158.40" cy="518.80" r="1.7" fill="#5a1f70"/>
<circle cx="165.30" cy="518.00" r="1.7" fill="#5a1f70"/>
<circle cx="161.90" cy="533.70" r="1.7" fill="#5a1f70"/>
<circle cx="161.90" cy="547.90" r="1.7" fill="#5a1f70"/>
<circle cx="161.90" cy="553.70" r="1.7" fill="#5a1f70"/>
<circle cx="161.90" cy="557.40" r="1.7" fill="#5a1f70"/>
<circle cx="161.90" cy="574.20" r="1.7" fill="#5a1f70"/>
<circle cx="161.90" cy="585.50" r="1.7" fill="#5a1f70"/>
<polygon points="161.50,415.10 162.06,416.53 163.59,416.62 162.40,417.59 162.79,419.08 161.50,418.25 160.21,419.08 160.60,417.59 159.41,416.62 160.94,416.53" fill="#222"/>
<line x1="190.4" y1="488.7" x2="190.4" y2="615.3" stroke="#2a2a2a" stroke-width="1.5"/>
<line x1="185.5" y1="488.7" x2="195.3" y2="488.7" stroke="#2a2a2a" stroke-width="1.5"/>
<line x1="185.5" y1="615.3" x2="195.3" y2="615.3" stroke="#2a2a2a" stroke-width="1.5"/>
<line x1="180.8" y1="552.0" x2="200.0" y2="552.0" stroke="#2a2a2a" stroke-width="1.5"/>
<circle cx="190.30" cy="443.40" r="1.7" fill="#f7941d"/>
<circle cx="186.80" cy="562.40" r="1.7" fill="#f7941d"/>
<circle cx="194.10" cy="562.40" r="1.7" fill="#f7941d"/>
<circle cx="190.30" cy="585.40" r="1.7" fill="#f7941d"/>
<circle cx="190.30" cy="606.90" r="1.7" fill="#f7941d"/>
<line x1="219.4" y1="561.6" x2="219.4" y2="607.8" stroke="#2a2a2a" stroke-width="1.5"/>
<line x1="214.5" y1="561.6" x2="224.3" y2="561.6" stroke="#2a2a2a" stroke-width="1.5"/>
<line x1="214.5" y1="607.8" x2="224.3" y2="607.8" stroke="#2a2a2a" stroke-width="1.5"/>
<line x1="209.8" y1="584.8" x2="229.0" y2="584.8" stroke="#2a2a2a" stroke-width="1.5"/>
<circle cx="219.40" cy="555.50" r="1.7" fill="#0b6a4c"/>
<circle cx="215.90" cy="585.40" r="1.7" fill="#0b6a4c"/>
<circle cx="222.90" cy="585.40" r="1.7" fill="#0b6a4c"/>
<circle cx="219.40" cy="613.00" r="1.7" fill="#0b6a4c"/>
<text x="133.6" y="410.6" font-size="10" font-style="italic" fill="#222222">p</text>
<line x1="141.5" y1="406.5" x2="147.6" y2="406.5" stroke="#222222" stroke-width="1"/>
<line x1="141.5" y1="408.5" x2="147.6" y2="408.5" stroke="#222222" stroke-width="1"/>
<text x="150.6" y="410.4" font-size="10" fill="#222222" textLength="38.2" lengthAdjust="spacingAndGlyphs">&lt;0.0007</text>
<line x1="327.7" y1="388.9" x2="327.7" y2="652.8" stroke="#1a1a1a" stroke-width="1.5"/>
<line x1="323.4" y1="652.8" x2="327.7" y2="652.8" stroke="#1a1a1a" stroke-width="1.25"/>
<text x="319.2" y="655.7" text-anchor="end" font-size="11.0" fill="#222222">0.0</text>
<line x1="323.4" y1="608.92" x2="327.7" y2="608.92" stroke="#1a1a1a" stroke-width="1.25"/>
<text x="319.2" y="611.82" text-anchor="end" font-size="11.0" fill="#222222">0.1</text>
<line x1="323.4" y1="565.03" x2="327.7" y2="565.03" stroke="#1a1a1a" stroke-width="1.25"/>
<text x="319.2" y="567.93" text-anchor="end" font-size="11.0" fill="#222222">0.2</text>
<line x1="323.4" y1="521.15" x2="327.7" y2="521.15" stroke="#1a1a1a" stroke-width="1.25"/>
<text x="319.2" y="524.05" text-anchor="end" font-size="11.0" fill="#222222">0.3</text>
<line x1="323.4" y1="477.27" x2="327.7" y2="477.27" stroke="#1a1a1a" stroke-width="1.25"/>
<text x="319.2" y="480.17" text-anchor="end" font-size="11.0" fill="#222222">0.4</text>
<line x1="323.4" y1="433.38" x2="327.7" y2="433.38" stroke="#1a1a1a" stroke-width="1.25"/>
<text x="319.2" y="436.28" text-anchor="end" font-size="11.0" fill="#222222">0.5</text>
<line x1="323.4" y1="389.5" x2="327.7" y2="389.5" stroke="#1a1a1a" stroke-width="1.25"/>
<text x="319.2" y="392.4" text-anchor="end" font-size="11.0" fill="#222222">0.6</text>
<line x1="324.9" y1="644.02" x2="327.7" y2="644.02" stroke="#1a1a1a" stroke-width="1.25"/>
<line x1="324.9" y1="635.25" x2="327.7" y2="635.25" stroke="#1a1a1a" stroke-width="1.25"/>
<line x1="324.9" y1="626.47" x2="327.7" y2="626.47" stroke="#1a1a1a" stroke-width="1.25"/>
<line x1="324.9" y1="617.69" x2="327.7" y2="617.69" stroke="#1a1a1a" stroke-width="1.25"/>
<line x1="324.9" y1="600.14" x2="327.7" y2="600.14" stroke="#1a1a1a" stroke-width="1.25"/>
<line x1="324.9" y1="591.36" x2="327.7" y2="591.36" stroke="#1a1a1a" stroke-width="1.25"/>
<line x1="324.9" y1="582.59" x2="327.7" y2="582.59" stroke="#1a1a1a" stroke-width="1.25"/>
<line x1="324.9" y1="573.81" x2="327.7" y2="573.81" stroke="#1a1a1a" stroke-width="1.25"/>
<line x1="324.9" y1="556.26" x2="327.7" y2="556.26" stroke="#1a1a1a" stroke-width="1.25"/>
<line x1="324.9" y1="547.48" x2="327.7" y2="547.48" stroke="#1a1a1a" stroke-width="1.25"/>
<line x1="324.9" y1="538.7" x2="327.7" y2="538.7" stroke="#1a1a1a" stroke-width="1.25"/>
<line x1="324.9" y1="529.93" x2="327.7" y2="529.93" stroke="#1a1a1a" stroke-width="1.25"/>
<line x1="324.9" y1="512.37" x2="327.7" y2="512.37" stroke="#1a1a1a" stroke-width="1.25"/>
<line x1="324.9" y1="503.6" x2="327.7" y2="503.6" stroke="#1a1a1a" stroke-width="1.25"/>
<line x1="324.9" y1="494.82" x2="327.7" y2="494.82" stroke="#1a1a1a" stroke-width="1.25"/>
<line x1="324.9" y1="486.04" x2="327.7" y2="486.04" stroke="#1a1a1a" stroke-width="1.25"/>
<line x1="324.9" y1="468.49" x2="327.7" y2="468.49" stroke="#1a1a1a" stroke-width="1.25"/>
<line x1="324.9" y1="459.71" x2="327.7" y2="459.71" stroke="#1a1a1a" stroke-width="1.25"/>
<line x1="324.9" y1="450.94" x2="327.7" y2="450.94" stroke="#1a1a1a" stroke-width="1.25"/>
<line x1="324.9" y1="442.16" x2="327.7" y2="442.16" stroke="#1a1a1a" stroke-width="1.25"/>
<line x1="324.9" y1="424.61" x2="327.7" y2="424.61" stroke="#1a1a1a" stroke-width="1.25"/>
<line x1="324.9" y1="415.83" x2="327.7" y2="415.83" stroke="#1a1a1a" stroke-width="1.25"/>
<line x1="324.9" y1="407.05" x2="327.7" y2="407.05" stroke="#1a1a1a" stroke-width="1.25"/>
<line x1="324.9" y1="398.28" x2="327.7" y2="398.28" stroke="#1a1a1a" stroke-width="1.25"/>
<line x1="323.5" y1="652.8" x2="510.4" y2="652.8" stroke="#1a1a1a" stroke-width="1.5"/>
<line x1="339.3" y1="652.8" x2="339.3" y2="656.8" stroke="#1a1a1a" stroke-width="1.25"/>
<text transform="translate(341.90,664.30) rotate(-45)" text-anchor="end" font-size="10.55" fill="#222222">None</text>
<line x1="371.0" y1="652.8" x2="371.0" y2="656.8" stroke="#1a1a1a" stroke-width="1.25"/>
<text transform="translate(373.60,664.30) rotate(-45)" text-anchor="end" font-size="10.55" fill="#222222">ASXL1</text>
<line x1="402.7" y1="652.8" x2="402.7" y2="656.8" stroke="#1a1a1a" stroke-width="1.25"/>
<text transform="translate(405.30,664.30) rotate(-45)" text-anchor="end" font-size="10.55" fill="#222222">STAG2</text>
<line x1="434.4" y1="652.8" x2="434.4" y2="656.8" stroke="#1a1a1a" stroke-width="1.25"/>
<text transform="translate(437.00,664.30) rotate(-45)" text-anchor="end" font-size="10.55" fill="#222222">DNMT3A</text>
<line x1="466.1" y1="652.8" x2="466.1" y2="656.8" stroke="#1a1a1a" stroke-width="1.25"/>
<text transform="translate(468.70,664.30) rotate(-45)" text-anchor="end" font-size="10.55" fill="#222222">SRSF2/U2AF1</text>
<line x1="497.8" y1="652.8" x2="497.8" y2="656.8" stroke="#1a1a1a" stroke-width="1.25"/>
<text transform="translate(500.40,664.30) rotate(-45)" text-anchor="end" font-size="10.55" fill="#222222">BCOR</text>
<text transform="translate(293.8,520.4) rotate(-90)" text-anchor="middle" font-size="11" fill="#222222" stroke="#222222" stroke-width="0.45" textLength="83.5" lengthAdjust="spacingAndGlyphs" font-weight="normal">Porportion of patients</text>
<rect x="329.90" y="433.38" width="7.6" height="219.42" fill="#c2132f" stroke="#111" stroke-width="1"/>
<rect x="341.60" y="459.71" width="7.7" height="193.09" fill="#135488" stroke="#111" stroke-width="1"/>
<rect x="361.60" y="631.30" width="7.6" height="21.50" fill="#c2132f" stroke="#111" stroke-width="1"/>
<rect x="373.30" y="553.40" width="7.7" height="99.40" fill="#135488" stroke="#111" stroke-width="1"/>
<rect x="393.30" y="466.30" width="7.6" height="186.50" fill="#c2132f" stroke="#111" stroke-width="1"/>
<rect x="405.00" y="579.95" width="7.7" height="72.85" fill="#135488" stroke="#111" stroke-width="1"/>
<rect x="425.00" y="598.38" width="7.6" height="54.42" fill="#c2132f" stroke="#111" stroke-width="1"/>
<rect x="436.70" y="606.90" width="7.7" height="45.90" fill="#135488" stroke="#111" stroke-width="1"/>
<rect x="456.70" y="620.46" width="7.6" height="32.34" fill="#c2132f" stroke="#111" stroke-width="1"/>
<rect x="468.40" y="640.07" width="7.7" height="12.73" fill="#135488" stroke="#111" stroke-width="1"/>
<rect x="488.40" y="620.46" width="7.6" height="32.34" fill="#c2132f" stroke="#111" stroke-width="1"/>
<rect x="500.10" y="646.66" width="7.7" height="6.14" fill="#135488" stroke="#111" stroke-width="1"/>
<rect x="460.5" y="399.7" width="6.8" height="11.6" fill="#c2132f" stroke="#111" stroke-width="1"/>
<rect x="460.5" y="419" width="6.8" height="11.6" fill="#135488" stroke="#111" stroke-width="1"/>
<text x="471.9" y="408.8" font-size="10.6" fill="#222222" textLength="20.2" lengthAdjust="spacingAndGlyphs">Male</text>
<text x="471.9" y="427.7" font-size="10.6" fill="#222222" textLength="30.4" lengthAdjust="spacingAndGlyphs">Female</text>
<text x="350.6" y="528.9" font-size="9.8" font-style="italic" fill="#222222">p</text>
<line x1="358.1" y1="524.5" x2="365" y2="524.5" stroke="#222222" stroke-width="1"/>
<line x1="358.1" y1="526.5" x2="365" y2="526.5" stroke="#222222" stroke-width="1"/>
<text x="366.9" y="529.0" font-size="9.6" fill="#222222" textLength="25.2" lengthAdjust="spacingAndGlyphs">0.016</text>
<line x1="351.0" y1="531.9" x2="391.4" y2="531.9" stroke="#444" stroke-width="1.5"/>
</svg></body></html>
